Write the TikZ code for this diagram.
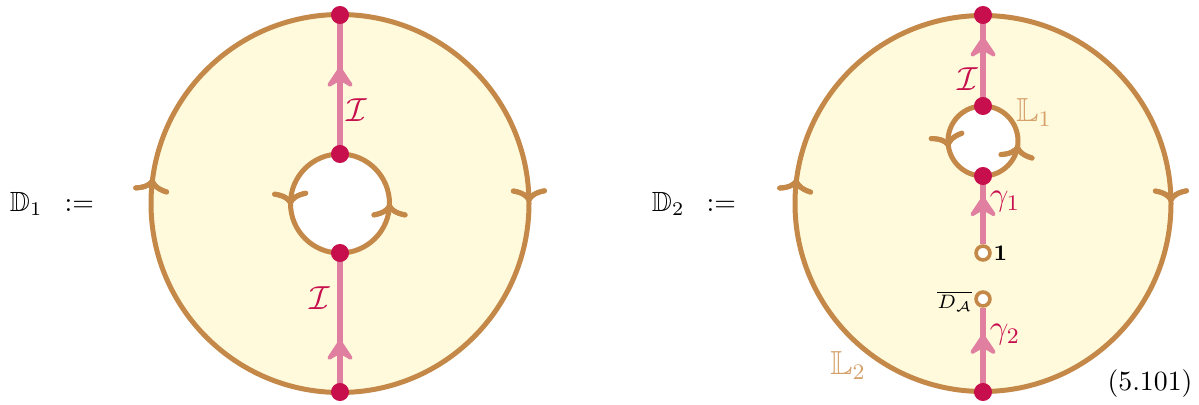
\documentclass[tikz,border=0pt]{standalone}
\usepackage{amssymb}
\usetikzlibrary{arrows.meta,decorations.markings,backgrounds}
\definecolor{diskfill}{RGB}{255,250,220}
\definecolor{brownc}{RGB}{196,136,72}
\definecolor{pinkc}{RGB}{224,127,160}
\definecolor{crim}{RGB}{199,15,78}
\definecolor{tanc}{RGB}{214,160,106}
\tikzset{
  bline/.style={draw=brownc, line width=1.8pt},
  barbat/.style={postaction={decorate}, decoration={markings, mark=at position #1 with {\arrow{Computer Modern Rightarrow[length=5pt,width=13pt]}}}},
  barbrev/.style={postaction={decorate}, decoration={markings, mark=at position #1 with {\arrowreversed{Computer Modern Rightarrow[length=5pt,width=13pt]}}}},
  pline/.style={draw=pinkc, line width=2.2pt},
  parrow/.style={postaction={decorate}, decoration={markings, mark=at position #1 with {\arrow{Stealth[length=9pt,width=12pt,inset=3.5pt,round]}}}},
  dot/.style={circle, fill=crim, inner sep=0pt, minimum size=6.5pt},
  odot/.style={circle, draw=brownc, fill=white, line width=1.3pt, inner sep=0pt, minimum size=5pt},
  crlab/.style={text=crim, inner sep=0pt, font=\large},
  tanlab/.style={text=tanc, inner sep=0pt, font=\large},
  blab/.style={text=black, inner sep=0pt}
}
\begin{document}
\begin{tikzpicture}[x=0.36pt,y=0.36pt]
\useasboundingbox (0,0) rectangle (1199,404);
% centres
\coordinate (c1) at (340,200.5);
\coordinate (c2) at (983,200.5);
\coordinate (c2i) at (983,263);
% dots
\node[dot] (d1top) at (340,389) {};
\node[dot] (d1i1) at (340,250) {};
\node[dot] (d1i2) at (340,151) {};
\node[dot] (d1bot) at (340,12) {};
\node[dot] (d2top) at (983,389) {};
\node[dot] (d2i1) at (983,298) {};
\node[dot] (d2i2) at (983,228) {};
\node[dot] (d2bot) at (983,12) {};
\node[odot] (one) at (983,151) {};
\node[odot] (da) at (983,105) {};
\begin{scope}[on background layer]
  \fill[diskfill, even odd rule] (c1) circle[radius=68.04pt] (c1) circle[radius=17.82pt];
  \fill[diskfill, even odd rule] (c2) circle[radius=67.68pt] (c2i) circle[radius=12.6pt];
  \draw[bline, barbrev=0.229, barbrev=0.751] (c1) ++(90:68.04pt) arc[start angle=90, end angle=450, radius=68.04pt];
  \draw[bline, barbat=0.255, barbat=0.75] (c1) ++(90:17.82pt) arc[start angle=90, end angle=450, radius=17.82pt];
  \draw[bline, barbrev=0.229, barbrev=0.751] (c2) ++(90:67.68pt) arc[start angle=90, end angle=450, radius=67.68pt];
  \draw[bline, barbat=0.278, barbat=0.732] (c2i) ++(90:12.6pt) arc[start angle=90, end angle=450, radius=12.6pt];
  \draw[pline, parrow=0.626] (d1i1.center) -- (d1top.center);
  \draw[pline, parrow=0.374] (d1bot.center) -- (d1i2.center);
  \draw[pline, parrow=0.76] (d2i1.center) -- (d2top.center);
  \draw[pline, parrow=0.70] (one.north) -- (d2i2.center);
  \draw[pline, parrow=0.686] (d2bot.center) -- (da.south);
\end{scope}
% labels
\node[blab] (l1) at (52,200) {$\mathbb{D}_1\hspace{8pt}{:=}$};
\node[blab] (l2) at (694,200) {$\mathbb{D}_2\hspace{8pt}{:=}$};
\node[crlab] (i1) at (357,294) {$\mathcal{I}$};
\node[crlab] (i2) at (320,106) {$\mathcal{I}$};
\node[crlab] (i3) at (968,325) {$\mathcal{I}$};
\node[tanlab] (ll1) at (1034,291) {$\mathbb{L}_1$};
\node[tanlab] (ll2) at (848,38) {$\mathbb{L}_2$};
\node[crlab] (g1) at (1005,202) {$\gamma_1$};
\node[crlab] (g2) at (1005,69) {$\gamma_2$};
\node[blab, anchor=west] (onel) at (993,151) {\footnotesize$\mathbf{1}$};
\node[blab, anchor=east] (dal) at (973,103) {\scriptsize$\overline{D_{\mathcal{A}}}$};
\node[blab, anchor=east] (eq) at (1193,20) {(5.101)};
\end{tikzpicture}
\end{document}
